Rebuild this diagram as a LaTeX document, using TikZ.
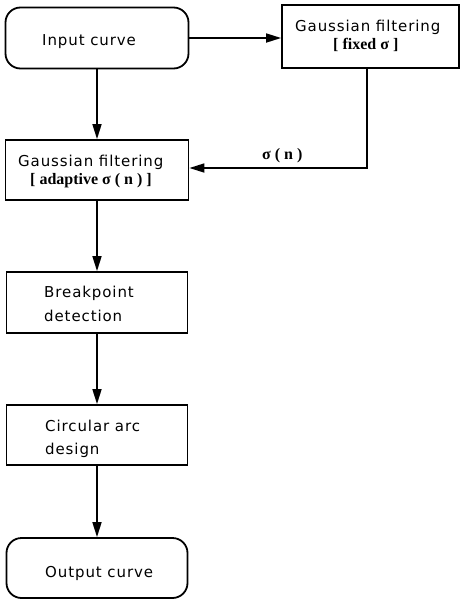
\documentclass[tikz,border=0pt]{standalone}
\usepackage{fontspec}
\usetikzlibrary{arrows.meta}
\newfontfamily\boxfont[LetterSpace=6]{DejaVu Sans}
\newfontfamily\boldserif{Liberation Serif}
\begin{document}
\begin{tikzpicture}[x=1pt,y=-1pt,
  box/.style={draw,line width=1.8pt,inner sep=0pt},
  rbox/.style={box,rounded corners=15pt},
  txt/.style={anchor=base west,inner sep=0pt,font=\boxfont\fontsize{15}{18}\selectfont},
  btxt/.style={anchor=base west,inner sep=0pt,font=\boldserif\bfseries\fontsize{16}{19}\selectfont},
  conn/.style={line width=1.7pt,-{Triangle[length=15pt,width=9pt]}}]
\useasboundingbox (0,0) rectangle (460,600);
% boxes
\node[rbox,minimum width=183pt,minimum height=61pt] (in) at (97,38) {};
\node[box,minimum width=177pt,minimum height=63pt] (fix) at (370.5,36.5) {};
\node[box,minimum width=183pt,minimum height=60pt] (ad) at (97,170) {};
\node[box,minimum width=181pt,minimum height=61pt] (bp) at (97,302.5) {};
\node[box,minimum width=181pt,minimum height=60pt] (ca) at (97,435) {};
\node[rbox,minimum width=181pt,minimum height=60pt] (out) at (97,568) {};
% texts
\node[txt] (inT) at (42,45) {Input curve};
\node[txt] (fixT1) at (295,31) {Gaussian filtering};
\node[btxt] (fixT2) at (333,49) {[ fixed σ ]};
\node[txt] (adT1) at (18,166) {Gaussian filtering};
\node[btxt] (adT2) at (30,184) {[ adaptive σ ( n ) ]};
\node[txt] (bpT1) at (44,297) {Breakpoint};
\node[txt] (bpT2) at (44,321) {detection};
\node[txt] (caT1) at (45,431) {Circular arc};
\node[txt] (caT2) at (45,454) {design};
\node[txt] (outT) at (45,577) {Output curve};
\node[btxt] (sig) at (262,159) {σ ( n )};
% connectors
\coordinate (corner) at (367,168);
\draw[conn] (in.east) -- (in.east -| fix.west);
\draw[conn] (in.south) -- (ad.north);
\draw[conn] (fix.south -| corner) -- (corner) -- (ad.east |- corner);
\draw[conn] (ad.south) -- (bp.north);
\draw[conn] (bp.south) -- (ca.north);
\draw[conn] (ca.south) -- (out.north);
\end{tikzpicture}
\end{document}
